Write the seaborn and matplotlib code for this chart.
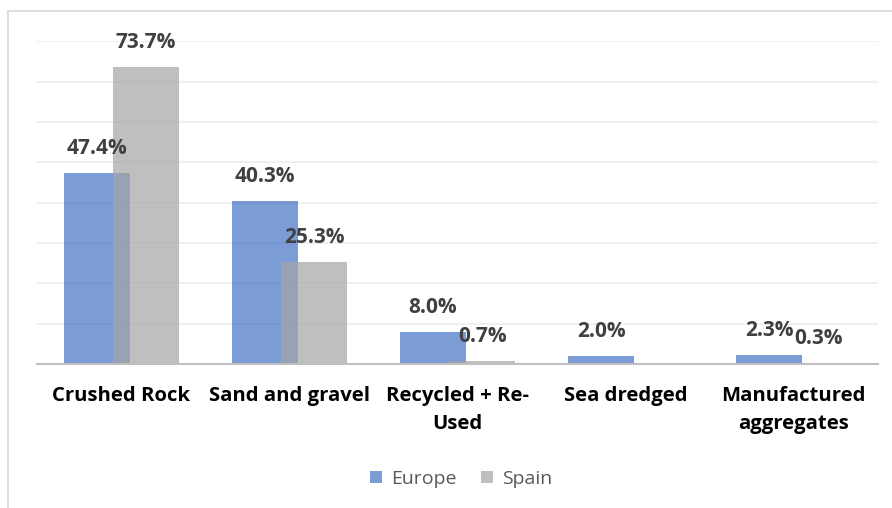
import numpy as np
import pandas as pd
import matplotlib
matplotlib.use("Agg")
import matplotlib.pyplot as plt
from matplotlib.lines import Line2D
from matplotlib.patches import Patch
import seaborn as sns

# Share of aggregates production by source
categories = ["Crushed Rock", "Sand and gravel", "Recycled + Re-\nUsed",
              "Sea dredged", "Manufactured\naggregates"]
europe = [47.4, 40.3, 8.0, 2.0, 2.3]
spain = [73.7, 25.3, 0.7, np.nan, 0.3]
series = ["Europe", "Spain"]
colors = ["#4472C4", "#A5A5A5"]

df = pd.DataFrame({
    "category": categories * 2,
    "share": europe + spain,
    "region": ["Europe"] * len(categories) + ["Spain"] * len(categories),
})

sns.set_theme(style="white")
plt.rcParams["font.family"] = ["Open Sans", "DejaVu Sans"]

fig = plt.figure(figsize=(8.92, 5.08), dpi=100)
ax = fig.add_axes([0.042, 0.2835, 0.942, 0.6355])

sns.barplot(data=df, x="category", y="share", hue="region", order=categories,
            hue_order=series, palette=colors, saturation=1, alpha=0.7,
            width=0.8, linewidth=0, edgecolor="none", legend=False, ax=ax)

# Overlapping bars: each bar 0.393 wide, centres at +/-0.146 of the category
bar_w = 0.393
offsets = [-0.146, 0.146]
values = [europe, spain]
for k, cont in enumerate(ax.containers):
    for bar in cont:
        cx = bar.get_x() + bar.get_width() / 2
        idx = int(round(cx))
        bar.set_width(bar_w)
        bar.set_x(idx + offsets[k] - bar_w / 2)
        bar.set_linewidth(0)
    for idx, v in enumerate(values[k]):
        if np.isnan(v):
            continue
        ax.annotate(f"{v:.1f}%", (idx + offsets[k], v), xytext=(0, 10),
                    textcoords="offset points", ha="center", va="bottom",
                    fontsize=15, fontweight="bold", color="#404040")

ax.set_xlim(-0.5, len(categories) - 0.5)
ax.set_ylim(0, 80)
ax.set_yticks(np.arange(0, 81, 10))
ax.yaxis.grid(True, color="#EDEDED", lw=1.2)
ax.set_axisbelow(True)
ax.tick_params(axis="y", left=False, labelleft=False)
ax.tick_params(axis="x", length=0, pad=16, labelsize=14.6, labelcolor="black")
for lab in ax.get_xticklabels():
    lab.set_fontweight("bold")
    lab.set_linespacing(1.5)
ax.set_xlabel("")
ax.set_ylabel("")
for s in ["left", "right", "top"]:
    ax.spines[s].set_visible(False)
ax.spines["bottom"].set_color("#BFBFBF")
ax.spines["bottom"].set_linewidth(1.5)

handles = [Patch(facecolor=c, alpha=0.7, edgecolor="none") for c in colors]
fig.legend(handles, series, loc="center", bbox_to_anchor=(0.517, 0.057),
           ncol=2, frameon=False, fontsize=14, handlelength=0.62,
           handleheight=0.62, handletextpad=0.45, columnspacing=1.3,
           labelcolor="#595959")

# Chart frame
fig.add_artist(Line2D([8 / 892, 8 / 892], [0, 1 - 11 / 508],
                      transform=fig.transFigure, color="#D9D9D9", lw=1.2))
fig.add_artist(Line2D([8 / 892, 1], [1 - 11 / 508, 1 - 11 / 508],
                      transform=fig.transFigure, color="#D9D9D9", lw=1.2))

fig.savefig("out.png", dpi=100)
